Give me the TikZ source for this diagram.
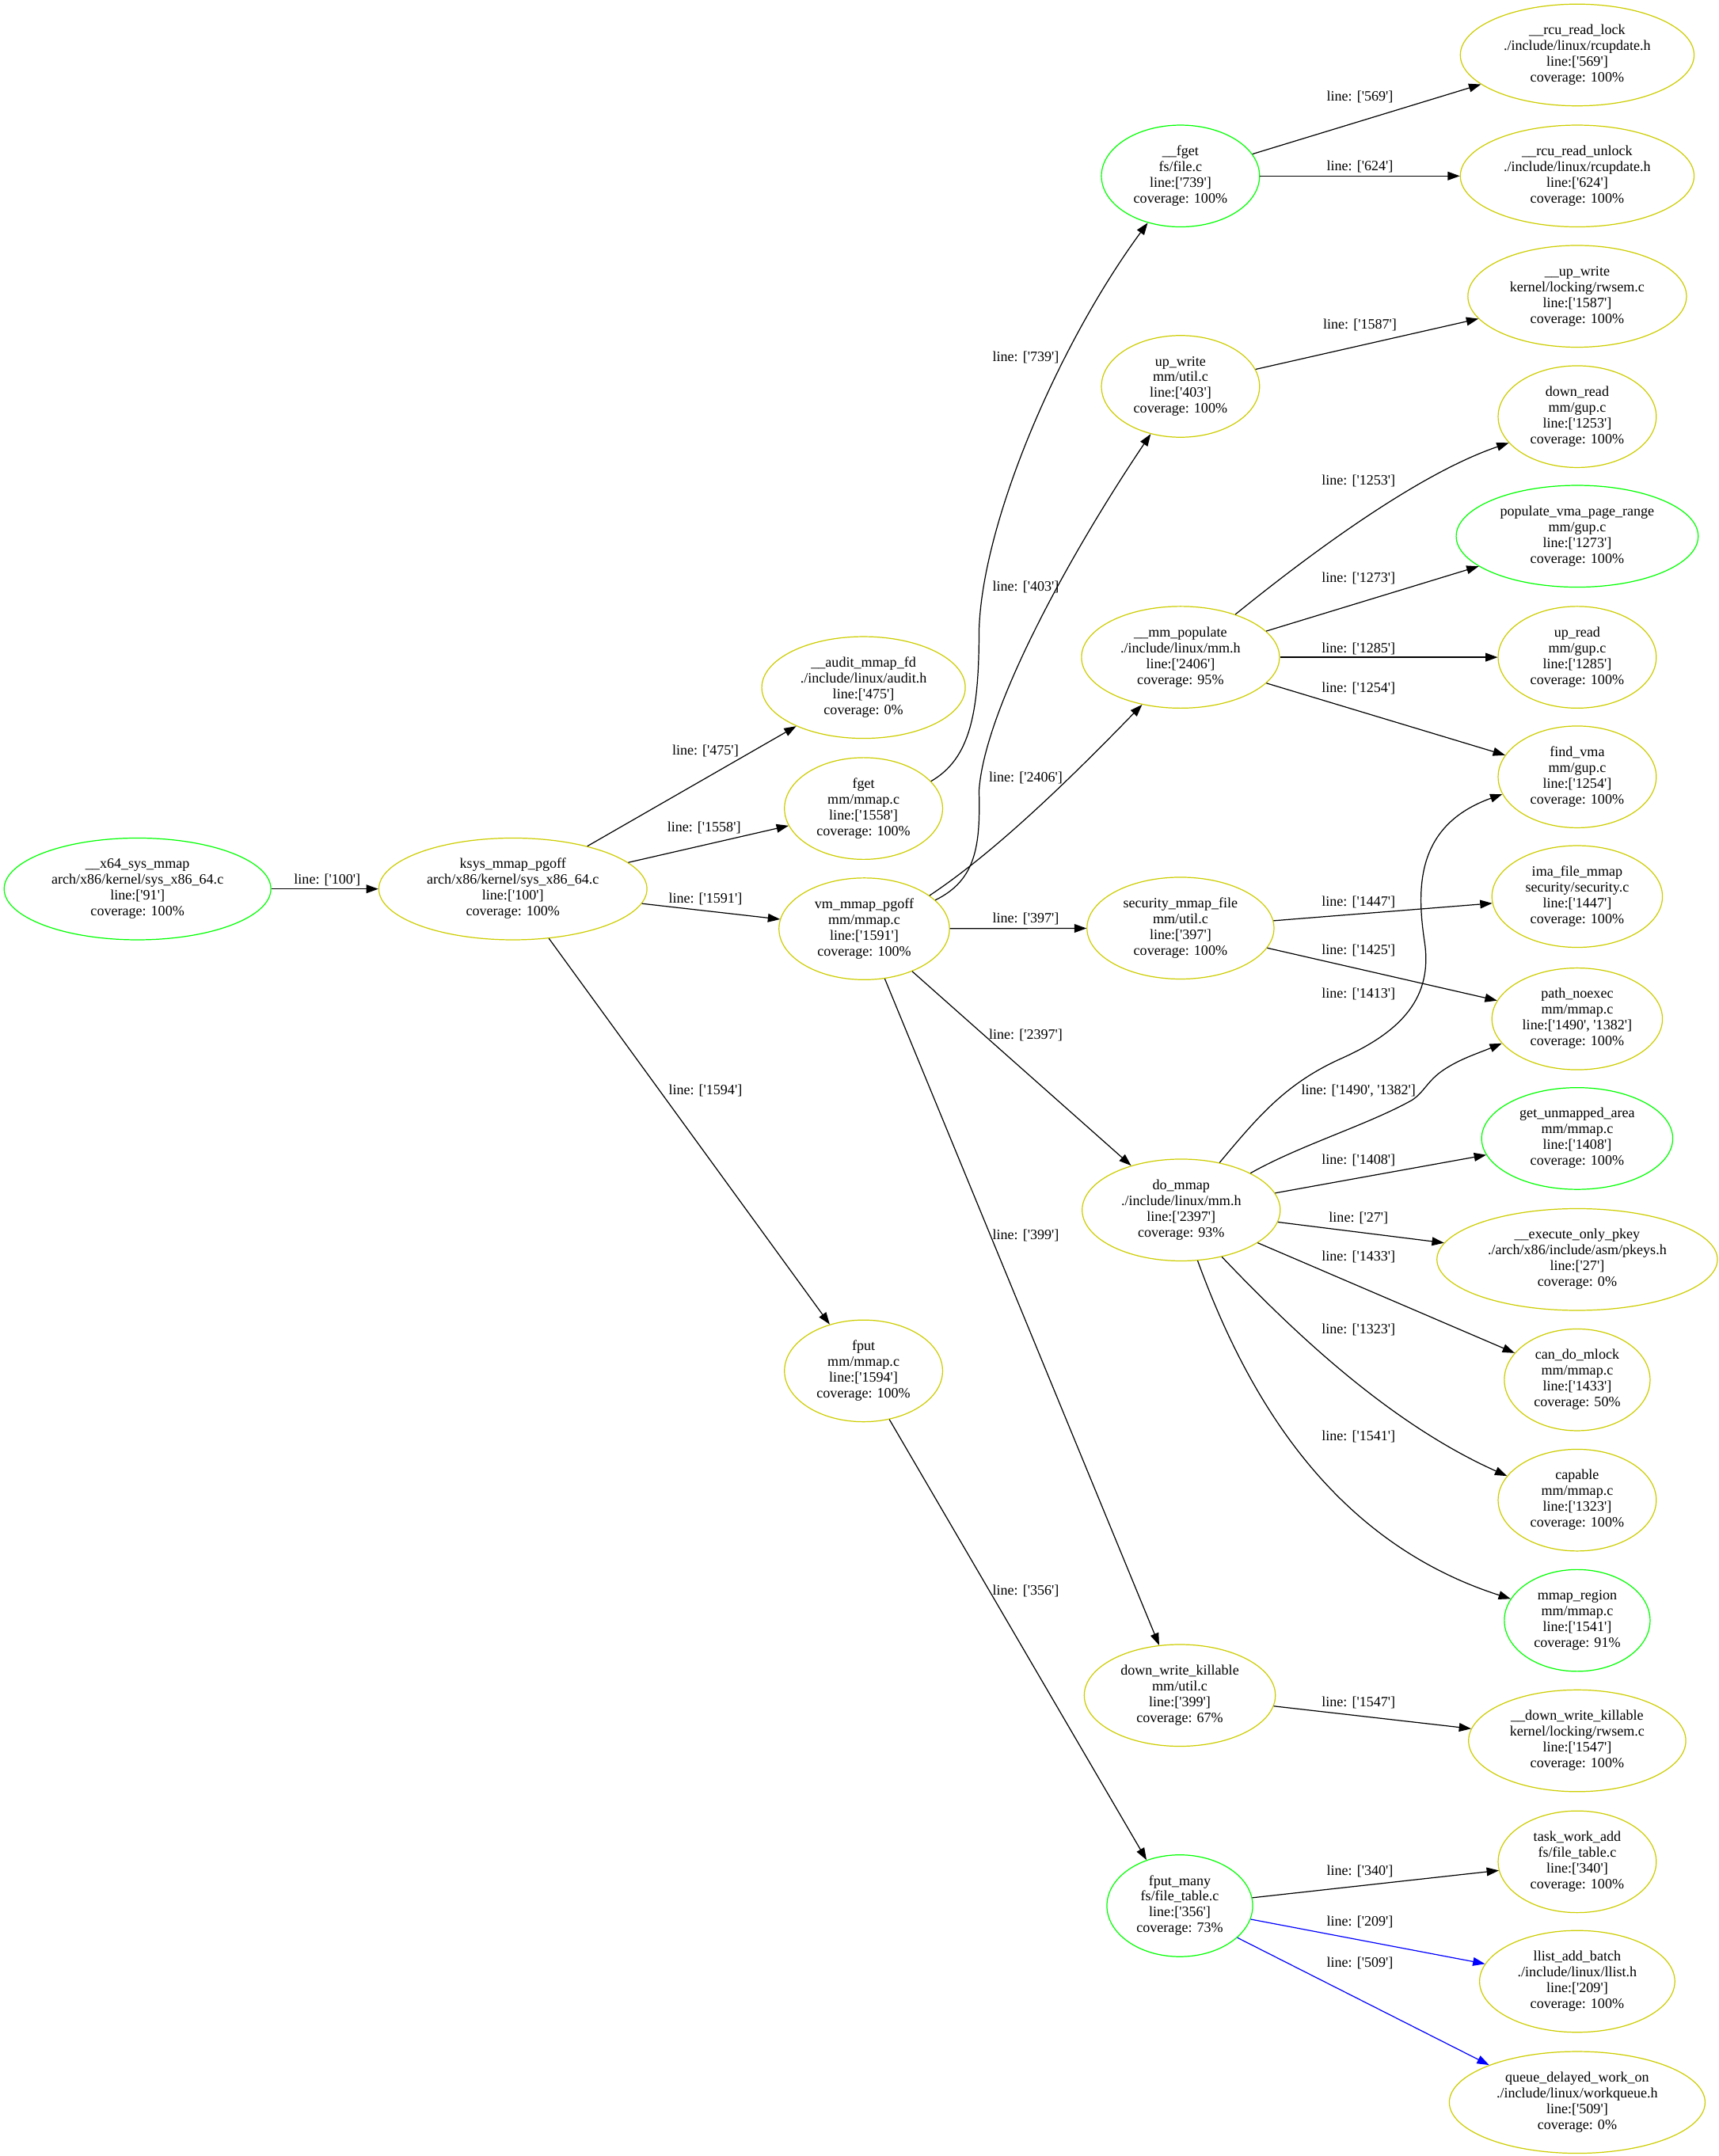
\documentclass[tikz,border=0pt]{standalone}
\usepackage{fontspec}
\setmainfont{Liberation Serif}[Ligatures=TeXOff]
\usetikzlibrary{arrows.meta,shapes.geometric}
\definecolor{gvgreen}{RGB}{0,255,0}
\definecolor{gvyellow}{RGB}{205,205,0}
\definecolor{gvblue}{RGB}{0,0,255}
\newcommand\gvtext[1]{\makebox[0pt]{\begin{tabular}{@{}c@{}}#1\end{tabular}}}
\begin{document}
\begin{tikzpicture}[x=1pt,y=-1pt,
  every node/.style={font=\fontsize{10.4}{11.5}\selectfont},
  fn/.style={ellipse, draw=gvyellow, line width=0.7pt, inner sep=0pt, minimum height=74pt},
  gfn/.style={fn, draw=gvgreen},
  call/.style={draw=black, line width=0.7pt, -{Triangle[length=8.8pt,width=6.2pt]}},
  bcall/.style={call, draw=gvblue},
  lbl/.style={inner sep=0pt}]
\fill[white] (0,0) rectangle (1250,1568);
\useasboundingbox (0,0) rectangle (1250,1568);

% column 1
\node[gfn, minimum width=194pt] (x64) at (100,646.5) {\gvtext{\_\_x64\_sys\_mmap\\arch/x86/kernel/sys\_x86\_64.c\\line:['91']\\coverage: 100\%}};
% column 2
\node[fn, minimum width=195pt] (ksys) at (373,646.5) {\gvtext{ksys\_mmap\_pgoff\\arch/x86/kernel/sys\_x86\_64.c\\line:['100']\\coverage: 100\%}};
% column 3
\node[fn, minimum width=148pt] (audit) at (628,500) {\gvtext{\_\_audit\_mmap\_fd\\./include/linux/audit.h\\line:['475']\\coverage: 0\%}};
\node[fn, minimum width=115pt] (fget) at (628,588) {\gvtext{fget\\mm/mmap.c\\line:['1558']\\coverage: 100\%}};
\node[fn, minimum width=124pt] (vm) at (628.5,675.5) {\gvtext{vm\_mmap\_pgoff\\mm/mmap.c\\line:['1591']\\coverage: 100\%}};
\node[fn, minimum width=115pt] (fput) at (628,997) {\gvtext{fput\\mm/mmap.c\\line:['1594']\\coverage: 100\%}};
% column 4
\node[gfn, minimum width=115pt] (fgetu) at (858.5,128) {\gvtext{\_\_fget\\fs/file.c\\line:['739']\\coverage: 100\%}};
\node[fn, minimum width=115pt] (upw) at (858.5,281) {\gvtext{up\_write\\mm/util.c\\line:['403']\\coverage: 100\%}};
\node[fn, minimum width=144pt] (mmp) at (858.5,478) {\gvtext{\_\_mm\_populate\\./include/linux/mm.h\\line:['2406']\\coverage: 95\%}};
\node[fn, minimum width=136pt] (sec) at (858.5,675) {\gvtext{security\_mmap\_file\\mm/util.c\\line:['397']\\coverage: 100\%}};
\node[fn, minimum width=144pt] (dommap) at (859,880) {\gvtext{do\_mmap\\./include/linux/mm.h\\line:['2397']\\coverage: 93\%}};
\node[fn, minimum width=139pt] (dwk) at (858,1233) {\gvtext{down\_write\_killable\\mm/util.c\\line:['399']\\coverage: 67\%}};
\node[gfn, minimum width=106pt] (fputm) at (858,1386) {\gvtext{fput\_many\\fs/file\_table.c\\line:['356']\\coverage: 73\%}};
% column 5
\node[fn, minimum width=170pt] (rcul) at (1147,40) {\gvtext{\_\_rcu\_read\_lock\\./include/linux/rcupdate.h\\line:['569']\\coverage: 100\%}};
\node[fn, minimum width=170pt] (rcuu) at (1147,128) {\gvtext{\_\_rcu\_read\_unlock\\./include/linux/rcupdate.h\\line:['624']\\coverage: 100\%}};
\node[fn, minimum width=159pt] (upwu) at (1147,215.5) {\gvtext{\_\_up\_write\\kernel/locking/rwsem.c\\line:['1587']\\coverage: 100\%}};
\node[fn, minimum width=115pt] (downr) at (1147,303) {\gvtext{down\_read\\mm/gup.c\\line:['1253']\\coverage: 100\%}};
\node[gfn, minimum width=176pt] (popv) at (1147,390) {\gvtext{populate\_vma\_page\_range\\mm/gup.c\\line:['1273']\\coverage: 100\%}};
\node[fn, minimum width=115pt] (upr) at (1147,478) {\gvtext{up\_read\\mm/gup.c\\line:['1285']\\coverage: 100\%}};
\node[fn, minimum width=115pt] (findv) at (1147,565) {\gvtext{find\_vma\\mm/gup.c\\line:['1254']\\coverage: 100\%}};
\node[fn, minimum width=124pt] (ima) at (1147,652) {\gvtext{ima\_file\_mmap\\security/security.c\\line:['1447']\\coverage: 100\%}};
\node[fn, minimum width=124pt] (pathn) at (1147,741) {\gvtext{path\_noexec\\mm/mmap.c\\line:['1490', '1382']\\coverage: 100\%}};
\node[gfn, minimum width=139pt] (getu) at (1147,828) {\gvtext{get\_unmapped\_area\\mm/mmap.c\\line:['1408']\\coverage: 100\%}};
\node[fn, minimum width=204pt] (execo) at (1147,916) {\gvtext{\_\_execute\_only\_pkey\\./arch/x86/include/asm/pkeys.h\\line:['27']\\coverage: 0\%}};
\node[fn, minimum width=106pt] (candm) at (1147,1003.5) {\gvtext{can\_do\_mlock\\mm/mmap.c\\line:['1433']\\coverage: 50\%}};
\node[fn, minimum width=115pt] (capable) at (1147,1091) {\gvtext{capable\\mm/mmap.c\\line:['1323']\\coverage: 100\%}};
\node[gfn, minimum width=106pt] (mmapr) at (1147,1178.5) {\gvtext{mmap\_region\\mm/mmap.c\\line:['1541']\\coverage: 91\%}};
\node[fn, minimum width=158pt] (dwku) at (1147,1266) {\gvtext{\_\_down\_write\_killable\\kernel/locking/rwsem.c\\line:['1547']\\coverage: 100\%}};
\node[fn, minimum width=115pt] (taskw) at (1147,1354) {\gvtext{task\_work\_add\\fs/file\_table.c\\line:['340']\\coverage: 100\%}};
\node[fn, minimum width=142pt] (llist) at (1147,1441) {\gvtext{llist\_add\_batch\\./include/linux/llist.h\\line:['209']\\coverage: 100\%}};
\node[fn, minimum width=186pt] (queue) at (1147,1529) {\gvtext{queue\_delayed\_work\_on\\./include/linux/workqueue.h\\line:['509']\\coverage: 0\%}};

% edges
\draw[call] (x64) -- (ksys);
\draw[call] (ksys) -- (audit);
\draw[call] (ksys) -- (fget);
\draw[call] (ksys) -- (vm);
\draw[call] (ksys) -- (fput);
\draw[call] (fget.22) .. controls (705,552) and (712,520) .. (712,459) .. controls (714,380) and (770,250) .. (fgetu.235);
\draw[call] (vm.22) .. controls (710,640) and (713,615) .. (712,575) .. controls (716,515) and (780,400) .. (upw.238);
\draw[call] (vm.27) .. controls (720,622) and (770,575) .. (mmp.231);
\draw[call] (vm) -- (sec);
\draw[call] (vm) -- (dommap);
\draw[call] (vm) -- (dwk);
\draw[call] (fput.-62) -- (fputm.126);
\draw[call] (fgetu) -- (rcul);
\draw[call] (fgetu) -- (rcuu);
\draw[call] (upw) -- (upwu);
\draw[call] (mmp.38) .. controls (950,405) and (1030,345) .. (downr.201);
\draw[call] (mmp) -- (popv);
\draw[call] (mmp) -- (upr);
\draw[call] (mmp) -- (findv);
\draw[call] (sec) -- (ima);
\draw[call] (sec) -- (pathn);
\draw[call] (dommap.51) .. controls (915,812) and (935,788) .. (975,770) .. controls (1020,750) and (1042,725) .. (1036,685) .. controls (1030,645) and (1030,600) .. (findv.193);
\draw[call] (dommap.28) .. controls (945,833) and (995,818) .. (1027,800) .. controls (1036,794) and (1038,786) .. (1050,778) .. controls (1062,770) and (1075,766) .. (pathn.198);
\draw[call] (dommap) -- (getu);
\draw[call] (dommap) -- (execo);
\draw[call] (dommap) -- (candm);
\draw[call] (dommap.-49.5) .. controls (940,968) and (1010,1035) .. (capable.161);
\draw[call] (dommap.-72) .. controls (905,1010) and (965,1120) .. (mmapr.162);
\draw[call] (dwk) -- (dwku);
\draw[call] (fputm) -- (taskw);
\draw[bcall] (fputm) -- (llist);
\draw[bcall] (fputm.-29) -- (queue.157);

% edge labels
\node[lbl] (l100) at (238,640) {line: ['100']};
\node[lbl] (l475) at (513,546) {line: ['475']};
\node[lbl] (l1558) at (512,602) {line: ['1558']};
\node[lbl] (l1591) at (513,654) {line: ['1591']};
\node[lbl] (l1594) at (513,793) {line: ['1594']};
\node[lbl] (l739) at (746,260) {line: ['739']};
\node[lbl] (l403) at (746,427) {line: ['403']};
\node[lbl] (l2406) at (746,566) {line: ['2406']};
\node[lbl] (l397) at (746,668) {line: ['397']};
\node[lbl] (l2397) at (746,753) {line: ['2397']};
\node[lbl] (l399) at (746,898.5) {line: ['399']};
\node[lbl] (l356) at (746,1157) {line: ['356']};
\node[lbl] (l569) at (989,70.5) {line: ['569']};
\node[lbl] (l624) at (989,121) {line: ['624']};
\node[lbl] (l1587) at (989,236.5) {line: ['1587']};
\node[lbl] (l1253) at (988,350) {line: ['1253']};
\node[lbl] (l1273) at (988,420.5) {line: ['1273']};
\node[lbl] (l1285) at (988,472) {line: ['1285']};
\node[lbl] (l1254) at (988,500.5) {line: ['1254']};
\node[lbl] (l1447) at (988,656) {line: ['1447']};
\node[lbl] (l1425) at (988,691) {line: ['1425']};
\node[lbl] (l1413) at (988,723) {line: ['1413']};
\node[lbl] (l1490) at (988,793) {line: ['1490', '1382']};
\node[lbl] (l1408) at (988,844) {line: ['1408']};
\node[lbl] (l27) at (988,886) {line: ['27']};
\node[lbl] (l1433) at (988,914) {line: ['1433']};
\node[lbl] (l1323) at (988,967) {line: ['1323']};
\node[lbl] (l1541) at (988,1045) {line: ['1541']};
\node[lbl] (l1547) at (988,1238) {line: ['1547']};
\node[lbl] (l340) at (989,1361) {line: ['340']};
\node[lbl] (l209) at (989,1398) {line: ['209']};
\node[lbl] (l509) at (989,1428) {line: ['509']};
\end{tikzpicture}
\end{document}
